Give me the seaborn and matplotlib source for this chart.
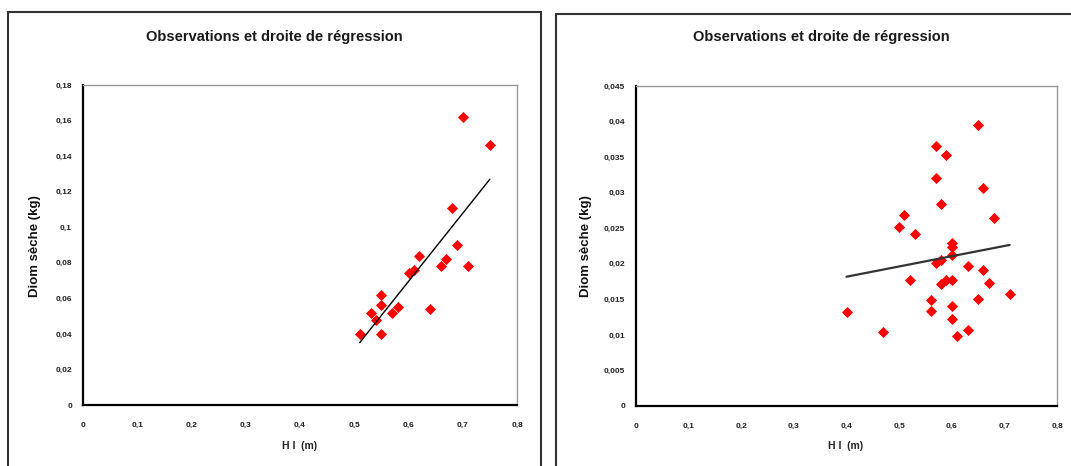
import matplotlib
matplotlib.use("Agg")
import matplotlib.pyplot as plt
import seaborn as sns
import pandas as pd
from matplotlib.patches import Rectangle
from matplotlib.ticker import FuncFormatter, MultipleLocator

# ---- data ----
left_hi = [0.51, 0.55, 0.53, 0.54, 0.55, 0.55, 0.57, 0.58, 0.64, 0.60, 0.61,
           0.62, 0.66, 0.67, 0.69, 0.71, 0.68, 0.70, 0.75]
left_biom = [0.040, 0.040, 0.052, 0.048, 0.056, 0.062, 0.052, 0.055, 0.054,
             0.074, 0.076, 0.084, 0.078, 0.082, 0.090, 0.078, 0.111, 0.162, 0.146]

right_hi = [0.40, 0.47, 0.50, 0.51, 0.53, 0.52, 0.56, 0.56, 0.57, 0.59, 0.57,
            0.58, 0.65, 0.66, 0.68, 0.60, 0.60, 0.57, 0.58, 0.63, 0.66, 0.58,
            0.59, 0.60, 0.67, 0.71, 0.65, 0.60, 0.60, 0.61, 0.63, 0.60]
right_biom = [0.0132, 0.0104, 0.0252, 0.0269, 0.0242, 0.0177, 0.0149, 0.0134,
              0.0366, 0.0353, 0.0321, 0.0284, 0.0395, 0.0307, 0.0264, 0.0229,
              0.0212, 0.0201, 0.0206, 0.0197, 0.0191, 0.0172, 0.0177, 0.0177,
              0.0173, 0.0158, 0.0151, 0.0141, 0.0123, 0.0099, 0.0107, 0.0224]

title = "Observations et droite de régression"
ylabel = "Diom sèche (kg)"
xlabel = "H I  (m)"
x_ticks = [0, 0.1, 0.2, 0.3, 0.4, 0.5, 0.6, 0.7, 0.8]

sns.set_theme(style="white")
plt.rcParams['font.family'] = ['Liberation Sans', 'DejaVu Sans']

fig = plt.figure(figsize=(10.71, 4.66), dpi=100)

def fmt(v, pos):
    s = ("%.3f" % v).rstrip('0').rstrip('.')
    return s.replace('.', ',')

def panel(rect, x, y, ylim, ystep, line_color, line_w):
    ax = fig.add_axes(rect)
    df = pd.DataFrame({"x": x, "y": y})
    sns.regplot(data=df, x="x", y="y", ax=ax, ci=None, truncate=True,
                marker="D", color="#ff0000",
                scatter_kws=dict(color="#ff0000", s=32, linewidths=0, alpha=1),
                line_kws=dict(color=line_color, lw=line_w))
    ax.set_xlim(0, 0.8)
    ax.set_ylim(0, ylim)
    ax.set_xticks(x_ticks)
    ax.yaxis.set_major_locator(MultipleLocator(ystep))
    ax.xaxis.set_major_formatter(FuncFormatter(fmt))
    ax.yaxis.set_major_formatter(FuncFormatter(fmt))
    ax.set_xlabel("")
    ax.set_ylabel("")
    for side in ("left", "bottom"):
        ax.spines[side].set_color("black")
        ax.spines[side].set_linewidth(1.6)
    for side in ("top", "right"):
        ax.spines[side].set_color("#999999")
        ax.spines[side].set_linewidth(1.0)
    ax.tick_params(axis="both", which="major", direction="inout", length=6,
                   width=1.4, color="black", labelsize=6, colors="black")
    ax.tick_params(axis="y", pad=5)
    ax.tick_params(axis="x", pad=9)
    ax.tick_params(axis="both", labelcolor="#222222")
    for lab in ax.get_xticklabels() + ax.get_yticklabels():
        lab.set_fontweight("bold")
    return ax

ax1 = panel([83/1071, 1-405/466, 434/1071, 320/466], left_hi, left_biom,
            0.18, 0.02, "black", 1.0)
ax2 = panel([636/1071, 1-406/466, 421/1071, 320/466], right_hi, right_biom,
            0.045, 0.005, "#333333", 1.6)

# panel borders
fig.patches.append(Rectangle((8/1071, -0.05), 533/1071, 1.05-12/466,
                             transform=fig.transFigure, fill=False,
                             edgecolor="#333333", lw=1.5))
fig.patches.append(Rectangle((556/1071, -0.05), 530/1071, 1.05-14/466,
                             transform=fig.transFigure, fill=False,
                             edgecolor="#333333", lw=1.5))

# titles and labels
for cx, ycx, axc in [(274, 35, 300), (821, 586, 846)]:
    fig.text(cx/1071, 1-37/466, title, ha="center", va="center",
             fontsize=10.5, fontweight="bold", color="#1a1a1a")
    fig.text(ycx/1071, 1-246/466, ylabel, ha="center", va="center",
             rotation=90, fontsize=9.5, fontweight="bold", color="#111111")
    fig.text(axc/1071, 1-446/466, xlabel, ha="center", va="center",
             fontsize=7.5, fontweight="bold", color="#222222")

fig.savefig("out.png", dpi=100)
